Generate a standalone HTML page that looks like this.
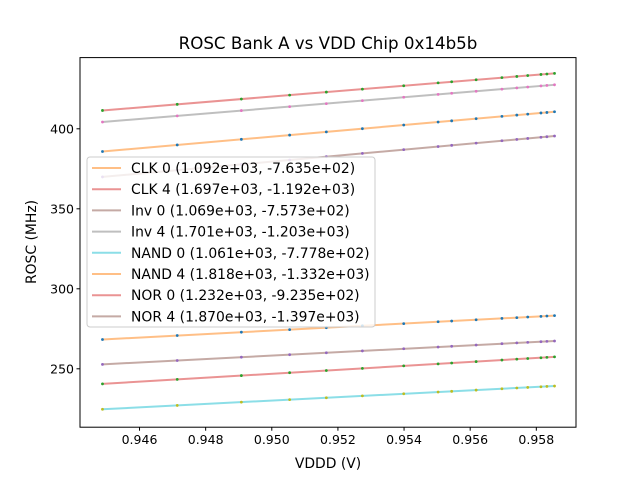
<!DOCTYPE html>
<html><head><meta charset="utf-8"><style>
body{margin:0;background:#fff}
svg text{font-family:"DejaVu Sans","Liberation Sans",sans-serif;fill:#000}
</style></head><body>
<svg id="chart" width="640" height="480" xmlns="http://www.w3.org/2000/svg">
<rect width="640" height="480" fill="#fff"/>
<text x="328" y="49" font-size="16.7" text-anchor="middle">ROSC Bank A vs VDD Chip 0x14b5b</text>
<g id="plot"></g>
<text x="328" y="468" font-size="13.9" text-anchor="middle">VDDD (V)</text>
<text transform="translate(36,242) rotate(-90)" font-size="13.9" text-anchor="middle">ROSC (MHz)</text>
</svg>
<script>
const vdd=[0.94488,0.94714,0.94908,0.95054,0.95165,0.95274,0.95399,0.95503,0.95544,0.95618,0.95696,0.95741,0.95774,0.95814,0.95832,0.95855];
const seriesNames=["CLK 0","CLK 4","Inv 0","Inv 4","NAND 0","NAND 4","NOR 0","NOR 4"];
const slopes=[1092,1697,1069,1701,1061,1818,1232,1870];
const intercepts=[-763.5,-1192,-757.3,-1203,-777.8,-1332,-923.5,-1397];
const legendLabels=["CLK 0 (1.092e+03, -7.635e+02)","CLK 4 (1.697e+03, -1.192e+03)","Inv 0 (1.069e+03, -7.573e+02)","Inv 4 (1.701e+03, -1.203e+03)","NAND 0 (1.061e+03, -7.778e+02)","NAND 4 (1.818e+03, -1.332e+03)","NOR 0 (1.232e+03, -9.235e+02)","NOR 4 (1.870e+03, -1.397e+03)"];
const xTicks=[0.946,0.948,0.950,0.952,0.954,0.956,0.958];
const xTickLabels=["0.946","0.948","0.950","0.952","0.954","0.956","0.958"];
const yTicks=[250,300,350,400];
const yTickLabels=["250","300","350","400"];
const lineColors=["#ff7f0e","#d62728","#8c564b","#7f7f7f","#17becf","#ff7f0e","#d62728","#8c564b"];
const dotColors=["#1f77b4","#2ca02c","#9467bd","#e377c2","#bcbd22","#1f77b4","#2ca02c","#9467bd"];
const L=80,R=576,T=57.6,B=427.2;
const X0=0.9442,X1=0.9592,Y0=213.5,Y1=444.5;
const sx=v=>L+(v-X0)/(X1-X0)*(R-L);
const sy=v=>B-(v-Y0)/(Y1-Y0)*(B-T);
const NS="http://www.w3.org/2000/svg";
const g=document.getElementById('plot');
function mk(t,a,p){const e=document.createElementNS(NS,t);for(const k in a)e.setAttribute(k,a[k]);(p||g).appendChild(e);return e;}
seriesNames.forEach((n,i)=>{
  const sg=mk('g',{});
  
  
  const f=v=>slopes[i]*v+intercepts[i];
  const a=vdd[0],b=vdd[vdd.length-1];
  const ln=mk('line',{x1:sx(a),y1:sy(f(a)),x2:sx(b),y2:sy(f(b)),stroke:lineColors[i],'stroke-width':2,'stroke-opacity':0.5},sg);
  
  
  vdd.forEach(v=>{
    const c=mk('circle',{cx:sx(v),cy:sy(f(v)),r:1.4,fill:dotColors[i]},sg);
    
    
  });
});
const ax=mk('rect',{x:L,y:T,width:R-L,height:B-T,fill:'none',stroke:'#000','stroke-width':1});


xTicks.forEach((v,i)=>{
  mk('line',{x1:sx(v),x2:sx(v),y1:B,y2:B+3.5,stroke:'#000'});
  const t=mk('text',{x:sx(v),y:B+17,'font-size':12.5,'text-anchor':'middle'});t.textContent=xTickLabels[i];
  
  
});
yTicks.forEach((v,i)=>{
  mk('line',{x1:L-3.5,x2:L,y1:sy(v),y2:sy(v),stroke:'#000'});
  const t=mk('text',{x:L-6,y:sy(v)+4.5,'font-size':12.5,'text-anchor':'end'});t.textContent=yTickLabels[i];
  
  
});
const lg=mk('g',{});


mk('rect',{x:87,y:157,width:288,height:170,rx:3,fill:'#fff','fill-opacity':0.8,stroke:'#ccc'},lg);
legendLabels.forEach((s,i)=>{
  const y=168+i*21.2;
  mk('line',{x1:92,x2:121,y1:y,y2:y,stroke:lineColors[i],'stroke-width':2,'stroke-opacity':0.5},lg);
  const t=mk('text',{x:131,y:y+5,'font-size':13.9},lg);t.textContent=s;
  
  
});
</script>
</body></html>
